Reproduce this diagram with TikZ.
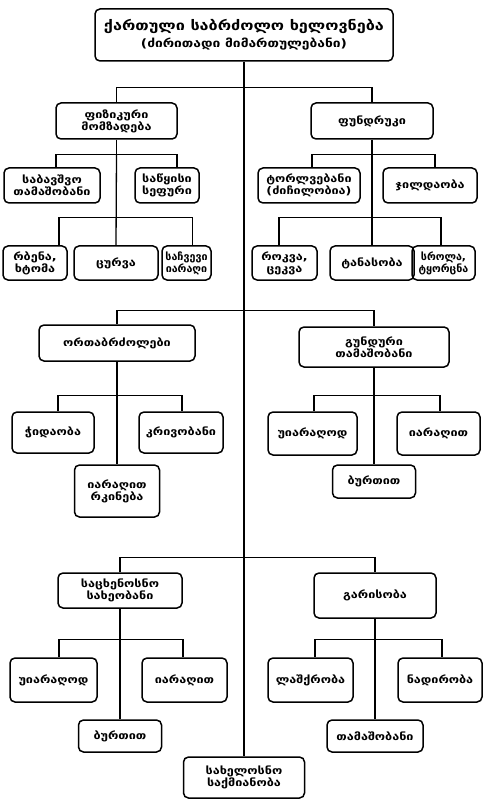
\documentclass[tikz,border=0pt]{standalone}
\usepackage{fontspec}
\newfontfamily\geo[FakeStretch=1.2]{DejaVu Sans Bold}
\begin{document}
\begin{tikzpicture}[x=1pt,y=-1pt,
  box/.style={draw, line width=1.5pt, rounded corners=5pt, align=center, inner sep=0pt,
    font=\geo\fontsize{10.5}{12}\selectfont},
  con/.style={line width=1.3pt}]
\useasboundingbox (0,0) rectangle (483,799);
% top level
\node[box, minimum width=298, minimum height=52, font=\geo\fontsize{13.5}{17}\selectfont] (top) at (244,35)
  {ქართული საბრძოლო ხელოვნება\\{\fontsize{11.5}{13}\selectfont(ძირითადი მიმართულებანი)}};
\node[box, minimum width=121, minimum height=41] (bot) at (244,777.5) {სახელოსნო\\საქმიანობა};
% section 1
\node[box, minimum width=121, minimum height=36] (fiz) at (116.5,121) {ფიზიკური\\მომზადება};
\node[box, minimum width=122, minimum height=36] (fund) at (372,121) {ფუნდრუკი};
\node[box, minimum width=96, minimum height=35] (sabav) at (52,185.5) {საბავშვო\\თამაშობანი};
\node[box, minimum width=64, minimum height=35] (sawy) at (167,185.5) {საწყისი\\სეფური};
\node[box, minimum width=64, minimum height=34] (rbena) at (35,263) {რბენა,\\ხტომა};
\node[box, minimum width=84, minimum height=34] (curva) at (116,263) {ცურვა};
\node[box, minimum width=49, minimum height=34] (sachv) at (186.5,263) {\scalebox{0.85}[1]{საჩვევი}\\\scalebox{0.85}[1]{იარაღი}};
\node[box, minimum width=102, minimum height=35] (torl) at (309,185.5) {ტორლვებანი\\(ძიჩილობია)};
\node[box, minimum width=94, minimum height=35] (jild) at (430,185.5) {ჯილდაობა};
\node[box, minimum width=65, minimum height=34] (rokva) at (284.5,263) {როკვა,\\ცეკვა};
\node[box, minimum width=84, minimum height=34] (tanas) at (372,263) {ტანასობა};
\node[box, minimum width=63, minimum height=34] (srola) at (443.5,263) {\scalebox{0.85}[1]{სროლა,}\\\scalebox{0.85}[1]{ტყორცნა}};
% section 2
\node[box, minimum width=156, minimum height=36] (ortha) at (117,343) {ორთაბრძოლები};
\node[box, minimum width=150, minimum height=40] (gund) at (374,347) {გუნდური\\თამაშობანი};
\node[box, minimum width=82, minimum height=41] (chid) at (53,432.5) {ჭიდაობა};
\node[box, minimum width=84, minimum height=41] (kriv) at (181,432.5) {კრივობანი};
\node[box, minimum width=85, minimum height=52] (iarrk) at (117,491) {იარაღით\\რკინება};
\node[box, minimum width=89, minimum height=43] (uiar) at (312.5,433.5) {უიარაღოდ};
\node[box, minimum width=83, minimum height=43] (iar) at (438.5,433.5) {იარაღით};
\node[box, minimum width=83, minimum height=33] (burt) at (374,481.5) {ბურთით};
% section 3
\node[box, minimum width=124, minimum height=35] (sacx) at (120,590.5) {საცხენოსნო\\სახეობანი};
\node[box, minimum width=122, minimum height=45] (gar) at (375,595.5) {გარისობა};
\node[box, minimum width=87, minimum height=44] (uiar2) at (53.5,680) {უიარაღოდ};
\node[box, minimum width=85, minimum height=44] (iar2) at (184.5,680) {იარაღით};
\node[box, minimum width=83, minimum height=32] (burt2) at (120,736) {ბურთით};
\node[box, minimum width=85, minimum height=44] (lash) at (310.5,680) {ლაშქრობა};
\node[box, minimum width=84, minimum height=44] (nad) at (440,680) {ნადირობა};
\node[box, minimum width=96, minimum height=32] (tam) at (375,736) {თამაშობანი};
% connectors
\draw[con] (top.south) -- (bot.north);
\draw[con] (fiz.north) -- ++(0,-15) -| (fund.north);
\draw[con] (fiz.south) -- ++(0,15) coordinate (f1) -| ([xshift=4]sabav.north);
\draw[con] (f1) -| ([xshift=10]sawy.north);
\draw[con] (f1) -- (curva.north);
\draw[con] (curva.north) ++(0,-28) -| ([xshift=24]rbena.north);
\draw[con] (curva.north) ++(0,-28) -| ([xshift=6]sachv.north);
\draw[con] (fund.south) -- ++(0,15) coordinate (f2) -| ([xshift=3]torl.north);
\draw[con] (f2) -| ([xshift=5]jild.north);
\draw[con] (f2) -- (tanas.north);
\draw[con] (tanas.north) ++(0,-28) -| ([xshift=-5.5]rokva.north);
\draw[con] (tanas.north) ++(0,-28) -| ([xshift=-2.5]srola.north);
\draw[con] (ortha.north) -- ++(0,-14) -| (gund.north);
\draw[con] (ortha.south) -- (iarrk.north);
\draw[con] (ortha.south) ++(0,34) -| ([xshift=5]chid.north);
\draw[con] (ortha.south) ++(0,34) -| ([xshift=1]kriv.north);
\draw[con] (gund.south) -- (burt.north);
\draw[con] (gund.south) ++(0,28) -| ([xshift=1.5]uiar.north);
\draw[con] (gund.south) ++(0,28) -| ([xshift=1.5]iar.north);
\draw[con] (sacx.north) -- ++(0,-15) -| (gar.north);
\draw[con] (sacx.south) -- (burt2.north);
\draw[con] (sacx.south) ++(0,31) -| ([xshift=5.5]uiar2.north);
\draw[con] (sacx.south) ++(0,31) -| ([xshift=-1.5]iar2.north);
\draw[con] (gar.south) -- (tam.north);
\draw[con] (gar.south) ++(0,21) -| ([xshift=4.5]lash.north);
\draw[con] (gar.south) ++(0,21) -| ([xshift=2]nad.north);
\end{tikzpicture}
\end{document}
